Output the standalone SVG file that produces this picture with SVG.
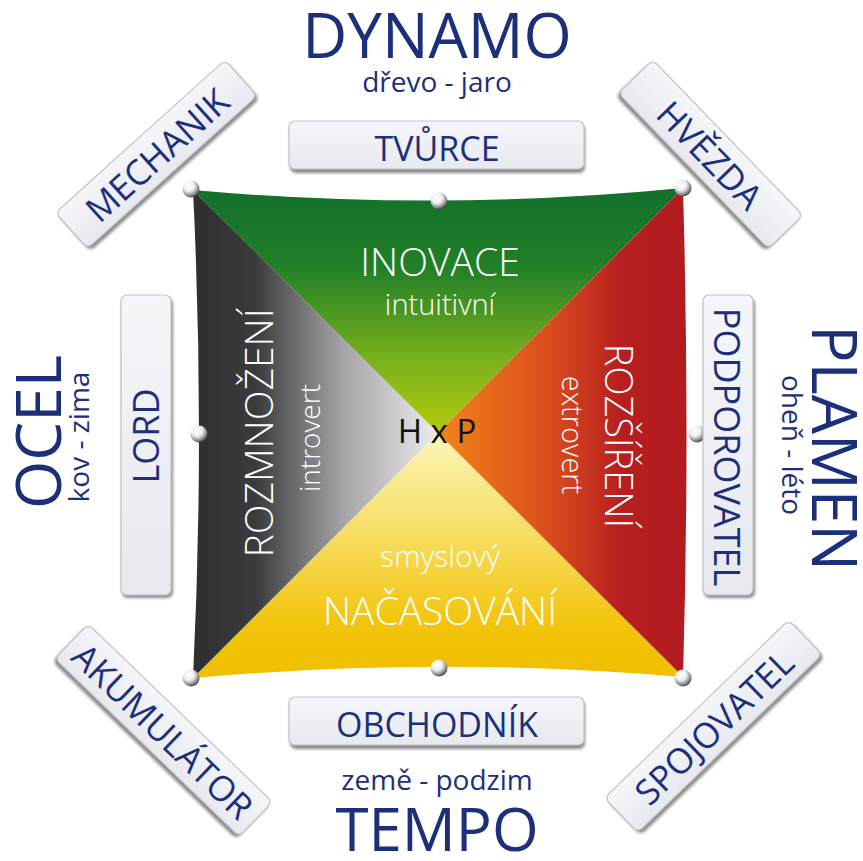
<svg xmlns="http://www.w3.org/2000/svg" width="863" height="861" viewBox="0 0 863 861">
<defs>
<style>
.t{font-family:"Open Sans","Noto Sans","DejaVu Sans",sans-serif;font-weight:400}
.blue{fill:#1b2f7b}
.w{fill:#ffffff;font-weight:300}
.btn{fill:url(#btnG);stroke:#c2c4ca;stroke-width:1.2}
.sh{fill:#8a8a8a;filter:url(#blur)}
.dot{fill:url(#dotG)}
</style>
<linearGradient id="btnG" x1="0" y1="0" x2="0" y2="1">
<stop offset="0" stop-color="#f5f6fa"/><stop offset="1" stop-color="#e7e9ef"/>
</linearGradient>
<radialGradient id="dotG" cx="0.38" cy="0.32" r="0.7">
<stop offset="0" stop-color="#ffffff"/><stop offset="0.45" stop-color="#eeeeee"/><stop offset="0.8" stop-color="#8c8c8c"/><stop offset="1" stop-color="#3c3c3c"/>
</radialGradient>
<filter id="blur" x="-10%" y="-30%" width="120%" height="160%"><feGaussianBlur stdDeviation="1.5"/></filter>
<linearGradient id="gTop" gradientUnits="userSpaceOnUse" x1="0" y1="195" x2="0" y2="433">
<stop offset="0" stop-color="#13712c"/><stop offset="0.3" stop-color="#217f27"/><stop offset="0.7" stop-color="#7bb21c"/><stop offset="1" stop-color="#b4cc0e"/>
</linearGradient>
<linearGradient id="gLeft" gradientUnits="userSpaceOnUse" x1="195" y1="0" x2="438" y2="0">
<stop offset="0" stop-color="#2f2f2f"/><stop offset="0.25" stop-color="#3a3b3c"/><stop offset="0.6" stop-color="#a3a3a5"/><stop offset="1" stop-color="#ececee"/>
</linearGradient>
<linearGradient id="gRight" gradientUnits="userSpaceOnUse" x1="438" y1="0" x2="683" y2="0">
<stop offset="0" stop-color="#f2841a"/><stop offset="0.45" stop-color="#da4e1c"/><stop offset="0.75" stop-color="#b71e20"/><stop offset="1" stop-color="#b31c1f"/>
</linearGradient>
<linearGradient id="gBot" gradientUnits="userSpaceOnUse" x1="0" y1="433" x2="0" y2="672">
<stop offset="0" stop-color="#fbf5bb"/><stop offset="0.45" stop-color="#f7dc5c"/><stop offset="0.8" stop-color="#f2c40c"/><stop offset="1" stop-color="#f0bf00"/>
</linearGradient>
</defs>
<rect width="863" height="861" fill="#ffffff"/>

<g id="square">
<path d="M193,190 Q437,212 683,188 L438,433 Z" fill="url(#gTop)"/>
<path d="M683,188 Q690,433 683,677 L438,433 Z" fill="url(#gRight)"/>
<path d="M683,677 Q437,656 193,678 L438,433 Z" fill="url(#gBot)"/>
<path d="M193,678 Q205,433 193,190 L438,433 Z" fill="url(#gLeft)"/>
</g>

<g id="inovace">
<text class="t w" x="440" y="276" font-size="39" text-anchor="middle">INOVACE</text>
<text class="t w" x="440" y="315" font-size="29" text-anchor="middle">intuitivní</text>
</g>
<g id="rozmnozeni">
<text class="t w" font-size="39" text-anchor="middle" transform="translate(273,433) rotate(-90)">ROZMNOŽENÍ</text>
<text class="t w" font-size="28" text-anchor="middle" transform="translate(320,438) rotate(-90)">introvert</text>
</g>
<g id="rozsireni">
<text class="t w" font-size="38" text-anchor="middle" transform="translate(605,436) rotate(90)">ROZŠÍŘENÍ</text>
<text class="t w" font-size="29" text-anchor="middle" transform="translate(562,435) rotate(90)">extrovert</text>
</g>
<g id="nacasovani">
<text class="t w" x="440" y="567" font-size="30" text-anchor="middle">smyslový</text>
<text class="t w" x="440" y="625" font-size="39" text-anchor="middle">NAČASOVÁNÍ</text>
</g>
<g id="hxp">
<text class="t" x="437" y="443" font-size="33" text-anchor="middle" fill="#111111">H x P</text>
</g>

<g id="dots">
<circle class="dot" cx="191" cy="189" r="8.5"/>
<circle class="dot" cx="439" cy="201" r="8.5"/>
<circle class="dot" cx="683" cy="188" r="8.5"/>
<circle class="dot" cx="199" cy="434" r="8.5"/>
<circle class="dot" cx="697" cy="434" r="8.5"/>
<circle class="dot" cx="191" cy="678" r="8.5"/>
<circle class="dot" cx="439" cy="668" r="8.5"/>
<circle class="dot" cx="683" cy="678" r="8.5"/>
</g>

<g id="tvurce">
<rect class="sh" x="290" y="124" width="295" height="49" rx="6"/>
<rect class="btn" x="289" y="121" width="295" height="48" rx="6"/>
<text class="t blue" x="437" y="161" font-size="34" text-anchor="middle">TVŮRCE</text>
</g>
<g id="obchodnik">
<rect class="sh" x="290" y="700" width="295" height="49" rx="6"/>
<rect class="btn" x="289" y="697" width="295" height="48" rx="6"/>
<text class="t blue" x="437" y="737" font-size="34" text-anchor="middle">OBCHODNÍK</text>
</g>
<g id="lord">
<rect class="sh" x="122" y="298" width="51" height="300" rx="6"/>
<rect class="btn" x="121" y="295" width="50" height="300" rx="6"/>
<text class="t blue" font-size="36" text-anchor="middle" transform="translate(159,436) rotate(-90)">LORD</text>
</g>
<g id="podporovatel">
<rect class="sh" x="704" y="298" width="51" height="300" rx="6"/>
<rect class="btn" x="703" y="295" width="50" height="300" rx="6"/>
<text class="t blue" font-size="36" text-anchor="middle" transform="translate(714,447) rotate(90)">PODPOROVATEL</text>
</g>
<g id="mechanik" transform="translate(157,155) rotate(-42)">
<rect class="sh" x="-114" y="-22" width="228" height="49" rx="6"/>
<rect class="btn" x="-114" y="-25" width="228" height="48" rx="6"/>
<text class="t blue" x="0" y="13" font-size="35" text-anchor="middle">MECHANIK</text>
</g>
<g id="hvezda" transform="translate(710,155) rotate(46)">
<rect class="sh" x="-108" y="-22" width="216" height="49" rx="6"/>
<rect class="btn" x="-108" y="-25" width="216" height="48" rx="6"/>
<text class="t blue" x="0" y="13" font-size="35" text-anchor="middle">HVĚZDA</text>
</g>
<g id="akumulator" transform="translate(163,731) rotate(44)">
<rect class="sh" x="-128" y="-22" width="256" height="49" rx="6"/>
<rect class="btn" x="-128" y="-25" width="256" height="48" rx="6"/>
<text class="t blue" x="0" y="13" font-size="35" text-anchor="middle">AKUMULÁTOR</text>
</g>
<g id="spojovatel" transform="translate(714,727) rotate(-44)">
<rect class="sh" x="-128" y="-22" width="256" height="49" rx="6"/>
<rect class="btn" x="-128" y="-25" width="256" height="48" rx="6"/>
<text class="t blue" x="0" y="13" font-size="35" text-anchor="middle">SPOJOVATEL</text>
</g>

<g id="dynamo">
<text class="t blue" x="437" y="58" font-size="62" text-anchor="middle">DYNAMO</text>
<text class="t blue" x="437" y="92" font-size="28" text-anchor="middle">dřevo - jaro</text>
</g>
<g id="tempo">
<text class="t blue" x="437" y="790" font-size="28" text-anchor="middle">země - podzim</text>
<text class="t blue" x="437" y="851" font-size="60" text-anchor="middle">TEMPO</text>
</g>
<g id="ocel">
<text class="t blue" font-size="62" text-anchor="middle" transform="translate(61,432) rotate(-90)">OCEL</text>
<text class="t blue" font-size="28" text-anchor="middle" transform="translate(89,437) rotate(-90)">kov - zima</text>
</g>
<g id="plamen">
<text class="t blue" font-size="62" text-anchor="middle" transform="translate(812,448) rotate(90)">PLAMEN</text>
<text class="t blue" font-size="28" text-anchor="middle" transform="translate(782,445) rotate(90)">oheň - léto</text>
</g>
</svg>
